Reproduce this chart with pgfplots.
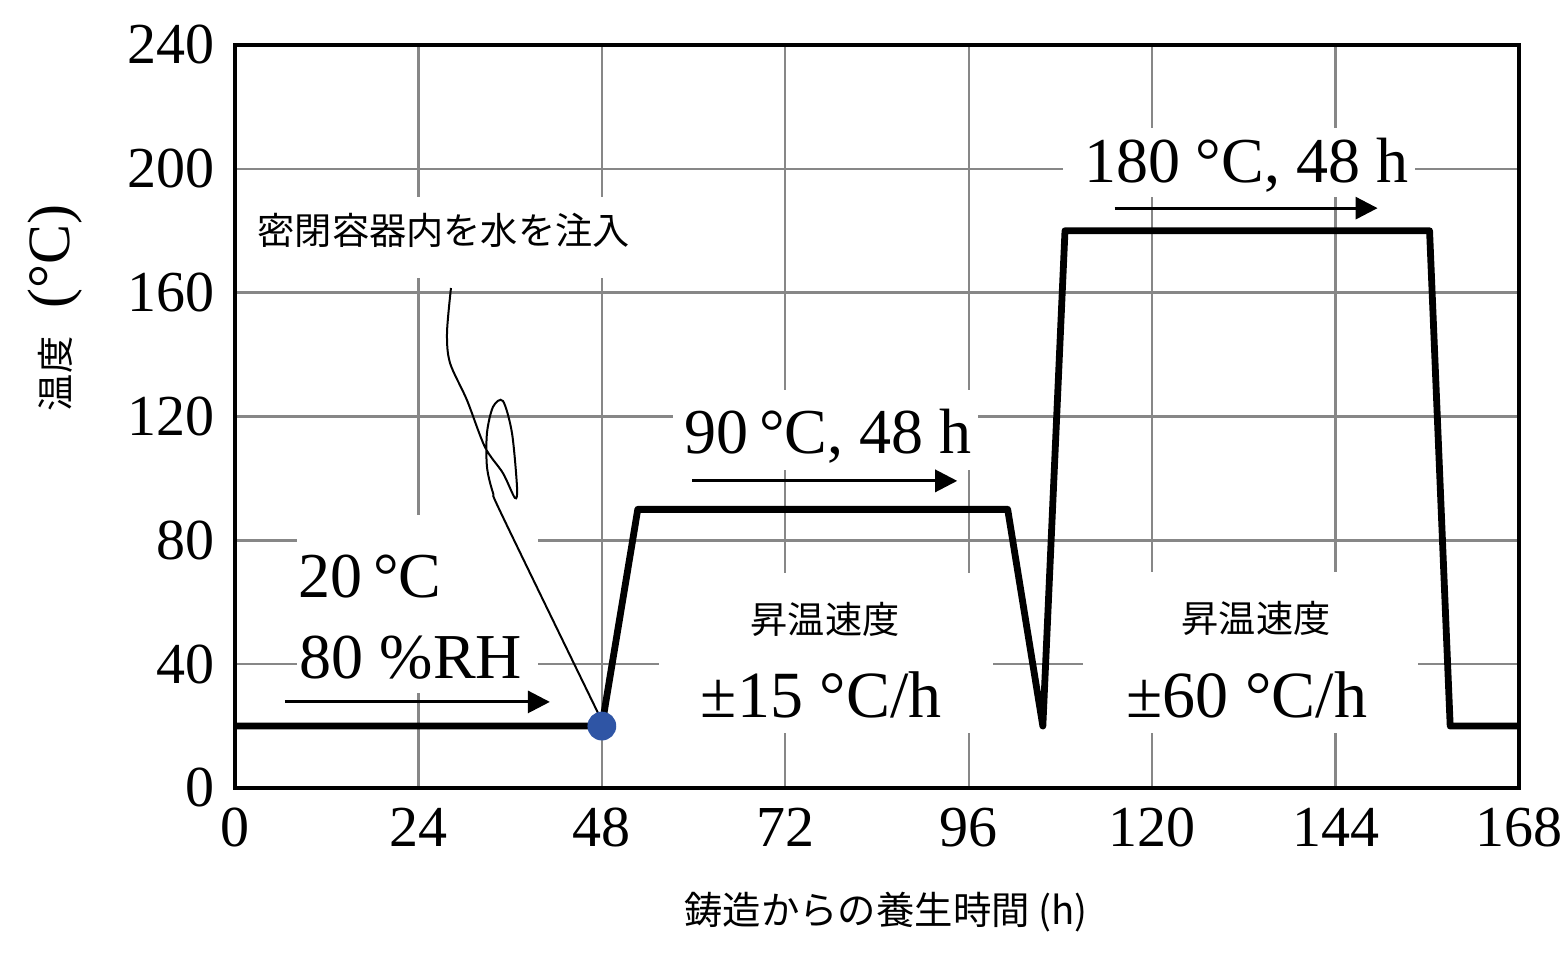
\documentclass[border=0pt]{standalone}
\usepackage{fontspec}
\setmainfont{Liberation Serif}
\newfontfamily\cjk{Noto Sans CJK JP}
\usepackage{pgfplots}
\pgfplotsset{compat=1.18}
\usetikzlibrary{arrows.meta}
\definecolor{dotblue}{RGB}{47,85,165}
\definecolor{gridgray}{RGB}{135,135,135}
\begin{document}
\begin{tikzpicture}[x=1pt,y=1pt]
\useasboundingbox (-58.75,-43.5) rectangle (333.25,197);
\begin{axis}[
  at={(0,0)}, anchor=south west,
  scale only axis, width=321pt, height=185.75pt,
  xmin=0, xmax=168, ymin=0, ymax=240,
  xtick={0,24,...,168}, ytick={0,40,...,240},
  grid=major, grid style={gridgray, line width=0.6pt},
  axis line style={line width=1pt},
  major tick length=0pt,
  tick label style={font=\fontsize{14.5}{16}\selectfont},
  /pgf/number format/assume math mode=true,
  xticklabel style={yshift=-1.5pt},
  yticklabel style={xshift=-1.5pt},
  clip=false,
]
% white boxes behind annotations
\fill[white] (axis cs:0.8,164.7) rectangle (axis cs:53.0,190.9);
\fill[white] (axis cs:57.3,102.7) rectangle (axis cs:97.2,128.6);
\fill[white] (axis cs:108.3,190.9) rectangle (axis cs:154.4,213.2);
\fill[white] (axis cs:55.5,17.8) rectangle (axis cs:99.2,69.4);
\fill[white] (axis cs:110.9,17.8) rectangle (axis cs:154.8,69.8);
\fill[white] (axis cs:8.1,30.7) rectangle (axis cs:39.6,88.2);
% texts
\node[inner sep=0pt, font=\cjk\fontsize{9.3}{10}\selectfont] at (axis cs:27.3,180.2) {密閉容器内を水を注入};
\node[inner sep=0pt, anchor=base west, font=\fontsize{16}{18}\selectfont] at (axis cs:8.24,61.4) {20\,°C};
\node[inner sep=0pt, anchor=base west, font=\fontsize{16}{18}\selectfont] at (axis cs:8.4,35.5) {80 \%RH};
\node[inner sep=0pt, anchor=base, font=\fontsize{16}{18}\selectfont] at (axis cs:77.6,108.2) {90\,°C, 48 h};
\node[inner sep=0pt, anchor=base, font=\fontsize{16}{18}\selectfont] at (axis cs:132.3,195.7) {180 °C, 48 h};
\node[inner sep=0pt, font=\cjk\fontsize{9.3}{10}\selectfont] at (axis cs:77.2,54.6) {昇温速度};
\node[inner sep=0pt, anchor=base, font=\fontsize{16.5}{18}\selectfont] at (axis cs:76.7,22.9) {±15 °C/h};
\node[inner sep=0pt, font=\cjk\fontsize{9.3}{10}\selectfont] at (axis cs:133.6,54.9) {昇温速度};
\node[inner sep=0pt, anchor=base, font=\fontsize{16.5}{18}\selectfont] at (axis cs:132.4,22.9) {±60 °C/h};
% arrows
\draw[line width=0.75pt, -{Triangle[length=5.5pt,width=5.5pt]}] (axis cs:6.54,27.8) -- (axis cs:41.2,27.8);
\draw[line width=0.75pt, -{Triangle[length=5.5pt,width=5.5pt]}] (axis cs:59.8,99.2) -- (axis cs:94.5,99.2);
\draw[line width=0.75pt, -{Triangle[length=5.5pt,width=5.5pt]}] (axis cs:115.1,187.3) -- (axis cs:149.5,187.3);
% hand-drawn pointer line
\addplot[black, line width=0.5pt, smooth, tension=0.5] coordinates {
(28.26,161.5)(27.74,147.0)(28.13,137.3)(30.35,125.3)(32.71,110.1)(35.06,101.7)(36.63,93.7)(36.90,97.2)(36.24,114.7)(35.06,125.0)(33.76,123.1)(32.97,114.7)(32.97,103.7)(33.76,95.3)(35.06,87.5)(47.76,22.9)};
% temperature profile
\addplot[black, line width=1.7pt, line join=round] coordinates {
(0,20)(48,20)(52.7,90)(101.1,90)(105.7,20)(108.6,180)(156.3,180)(159.0,20)(168,20)};
\addplot[only marks, mark=*, mark size=3.4pt, color=dotblue] coordinates {(48,20)};
\end{axis}
\node[rotate=90, inner sep=0pt] at (-45,120) {{\cjk\fontsize{9.3}{10}\selectfont 温度}\hspace{7pt}{\fontsize{15}{16}\selectfont (°C)}};
\node[inner sep=0pt, font=\cjk\fontsize{9.6}{11}\selectfont] at (162.75,-31) {鋳造からの養生時間 (h)};
\end{tikzpicture}
\end{document}
